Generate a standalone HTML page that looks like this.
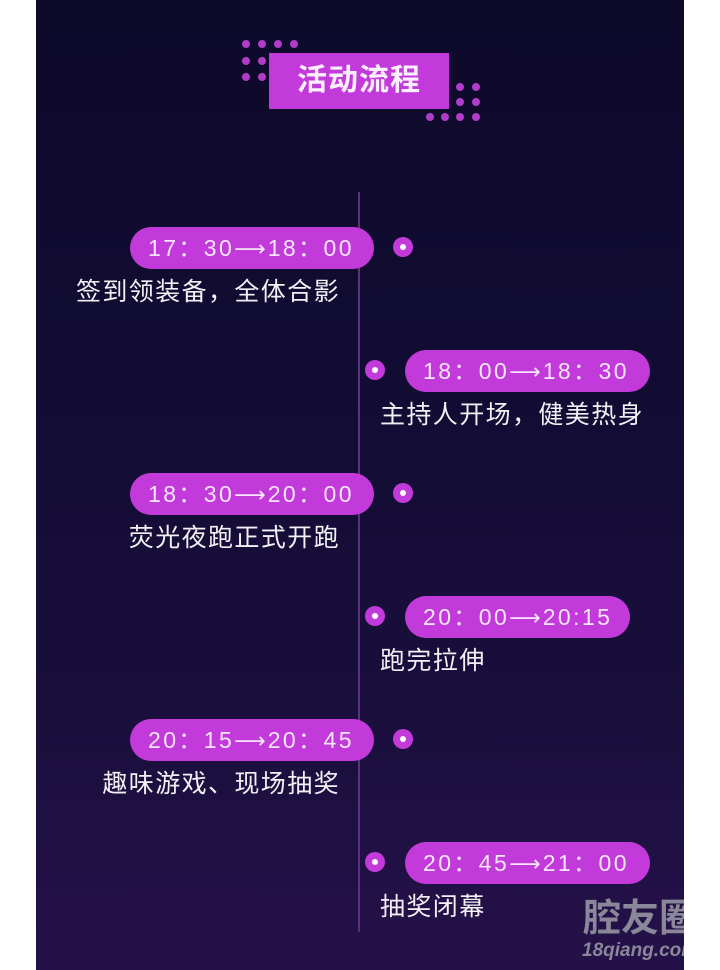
<!DOCTYPE html>
<html><head><meta charset="utf-8"><style>
*{margin:0;padding:0;box-sizing:border-box}
body{width:720px;height:970px;background:#fff;position:relative;overflow:hidden;font-family:"Liberation Sans","Noto Sans CJK SC",sans-serif}
#bg{position:absolute;left:36px;top:0;width:648px;height:970px;background:linear-gradient(180deg,#0e0a2a 0%,#120c33 40%,#1a0f3d 75%,#25114a 100%)}
.pill{position:absolute;height:42px;border-radius:21px;background:#c23ad9;color:#f6e6fb;font-size:23px;line-height:42px;padding-left:18px;letter-spacing:2.4px;white-space:nowrap}
.pill span{font-family:"DejaVu Sans",sans-serif;font-size:22px;letter-spacing:0;margin-right:2px}
.dot{position:absolute;width:20px;height:20px;border-radius:50%;background:#c23ad9}
.dot::after{content:"";position:absolute;left:7px;top:7px;width:6px;height:6px;border-radius:50%;background:#fff}
.lbl{position:absolute;color:#f2f0f5;font-size:25px;letter-spacing:1.4px;line-height:30px;white-space:nowrap}
.l{right:380px;text-align:right}
.r{left:380px}
.sd{position:absolute;width:8px;height:8px;border-radius:50%;background:#b03cc9}
</style></head><body>
<div id="bg"></div>
<div style="position:absolute;left:358px;top:192px;width:2px;height:740px;background:#5a3380"></div>
<div style="position:absolute;left:269px;top:53px;width:180px;height:56px;background:#c23ad9;color:#fbeefd;font-size:30px;font-weight:bold;line-height:56px;text-align:center;letter-spacing:1px">活动流程</div>
<div class="sd" style="left:242px;top:40px"></div><div class="sd" style="left:258px;top:40px"></div><div class="sd" style="left:274px;top:40px"></div><div class="sd" style="left:290px;top:40px"></div>
<div class="sd" style="left:242px;top:57px"></div><div class="sd" style="left:258px;top:57px"></div>
<div class="sd" style="left:242px;top:73px"></div><div class="sd" style="left:258px;top:73px"></div>
<div class="sd" style="left:456px;top:83px"></div><div class="sd" style="left:472px;top:83px"></div>
<div class="sd" style="left:456px;top:98px"></div><div class="sd" style="left:472px;top:98px"></div>
<div class="sd" style="left:426px;top:113px"></div><div class="sd" style="left:441px;top:113px"></div><div class="sd" style="left:456px;top:113px"></div><div class="sd" style="left:472px;top:113px"></div>

<div class="pill" style="left:130px;top:227px;width:244px">17：30<span>⟶</span>18：00</div>
<div class="dot" style="left:393px;top:237px"></div>
<div class="lbl l" style="top:277px">签到领装备，全体合影</div>

<div class="pill" style="left:405px;top:350px;width:245px">18：00<span>⟶</span>18：30</div>
<div class="dot" style="left:365px;top:360px"></div>
<div class="lbl r" style="top:400px">主持人开场，健美热身</div>

<div class="pill" style="left:130px;top:473px;width:244px">18：30<span>⟶</span>20：00</div>
<div class="dot" style="left:393px;top:483px"></div>
<div class="lbl l" style="top:523px">荧光夜跑正式开跑</div>

<div class="pill" style="left:405px;top:596px;width:225px">20：00<span>⟶</span>20:15</div>
<div class="dot" style="left:365px;top:606px"></div>
<div class="lbl r" style="top:646px">跑完拉伸</div>

<div class="pill" style="left:130px;top:719px;width:244px">20：15<span>⟶</span>20：45</div>
<div class="dot" style="left:393px;top:729px"></div>
<div class="lbl l" style="top:769px">趣味游戏、现场抽奖</div>

<div class="pill" style="left:405px;top:842px;width:245px">20：45<span>⟶</span>21：00</div>
<div class="dot" style="left:365px;top:852px"></div>
<div class="lbl r" style="top:892px">抽奖闭幕</div>

<div style="position:absolute;left:583px;top:898px;width:101px;overflow:hidden;color:#8a8798;font-size:38px;font-weight:bold;white-space:nowrap;line-height:42px">腔友圈</div>
<div style="position:absolute;left:582px;top:940px;width:102px;overflow:hidden;color:#8a8798;font-size:19px;font-weight:bold;font-style:italic;white-space:nowrap">18qiang.com</div>
</body></html>
